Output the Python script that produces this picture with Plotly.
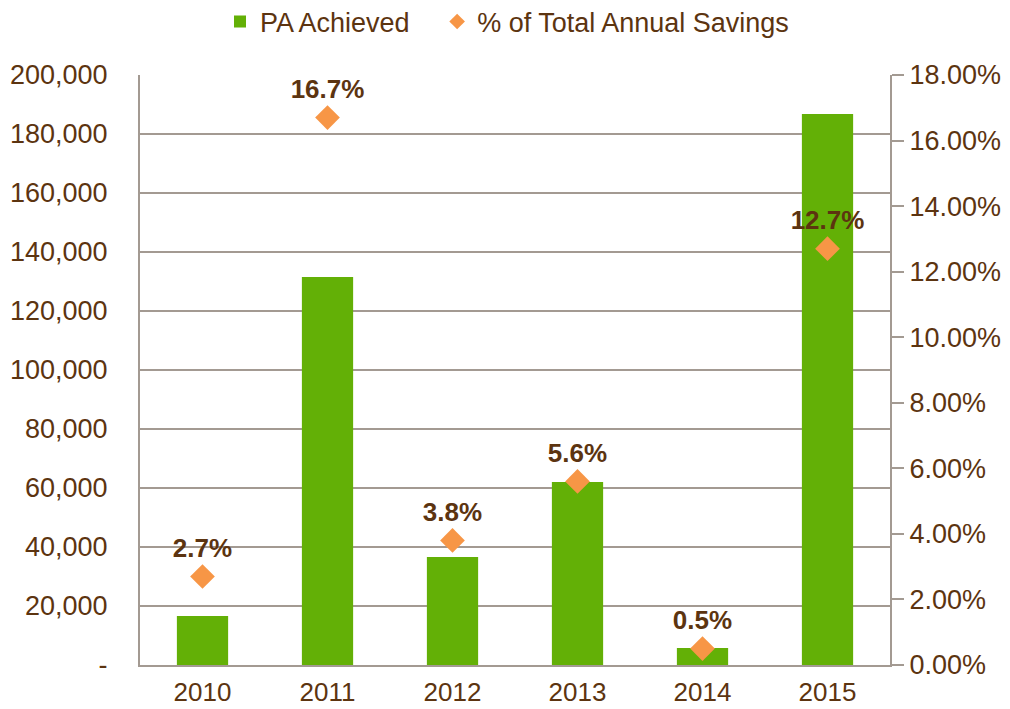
import plotly.graph_objects as go

years = ["2010", "2011", "2012", "2013", "2014", "2015"]
pa_achieved = [16600, 131500, 36600, 62000, 5800, 186800]
pct_savings = [0.027, 0.167, 0.038, 0.056, 0.005, 0.127]
pct_labels = ["2.7%", "16.7%", "3.8%", "5.6%", "0.5%", "12.7%"]

left_ticks = [0, 20000, 40000, 60000, 80000, 100000, 120000, 140000, 160000, 180000, 200000]
left_ticktext = ["-"] + [f"{v:,}" for v in left_ticks[1:]]

GREEN = "#63B006"
ORANGE = "#F79646"
BROWN = "#5C3410"
GRID = "#A39A92"
FONT = "Liberation Sans, Arial, sans-serif"

# page body has an 8px margin, so the figure is sized/offset to fit the 1010x709 window
W, H = 1002, 701

fig = go.Figure()
fig.add_trace(go.Bar(
    x=years, y=pa_achieved, name="PA Achieved\u00a0\u00a0\u00a0",
    marker=dict(color=GREEN, line=dict(width=0)),
    width=0.41, yaxis="y",
))
fig.add_trace(go.Scatter(
    x=years, y=pct_savings, name="% of Total Annual Savings",
    mode="markers+text", text=pct_labels, textposition="top center",
    textfont=dict(family=FONT, size=26, color=BROWN, weight="bold"),
    marker=dict(symbol="diamond", size=19, color=ORANGE),
    yaxis="y2",
))

fig.update_layout(
    width=W, height=H,
    margin=dict(l=132, r=120, t=67, b=44, autoexpand=False),
    paper_bgcolor="white", plot_bgcolor="white",
    font=dict(family=FONT, size=27, color=BROWN),
    showlegend=True,
    legend=dict(orientation="h", x=0.5 - 8 / 750, xanchor="center", y=1 - 14 / H, yanchor="middle",
                yref="container", font=dict(size=27, color=BROWN),
                itemsizing="constant", traceorder="normal", itemwidth=30),
    bargap=0.59,
    xaxis=dict(
        showline=True, linecolor=GRID, linewidth=2, showgrid=False, automargin=False,
        tickfont=dict(size=26, color=BROWN), ticks="", ticklabelstandoff=3,
    ),
    yaxis=dict(
        range=[0, 200000], tickvals=left_ticks, ticktext=left_ticktext,
        showline=True, linecolor=GRID, linewidth=2, automargin=False,
        showgrid=True, gridcolor=GRID, gridwidth=2,
        zeroline=False, ticks="", ticklabelstandoff=25,
        tickfont=dict(size=27, color=BROWN),
    ),
    yaxis2=dict(
        range=[0, 0.18], dtick=0.02, tickformat=".2%",
        overlaying="y", side="right", automargin=False,
        showline=True, linecolor=GRID, linewidth=2,
        showgrid=False, zeroline=False,
        ticks="outside", ticklen=12, tickcolor=GRID, tickwidth=2,
        tickfont=dict(size=27, color=BROWN),
    ),
)

fig.write_html("out.html")
